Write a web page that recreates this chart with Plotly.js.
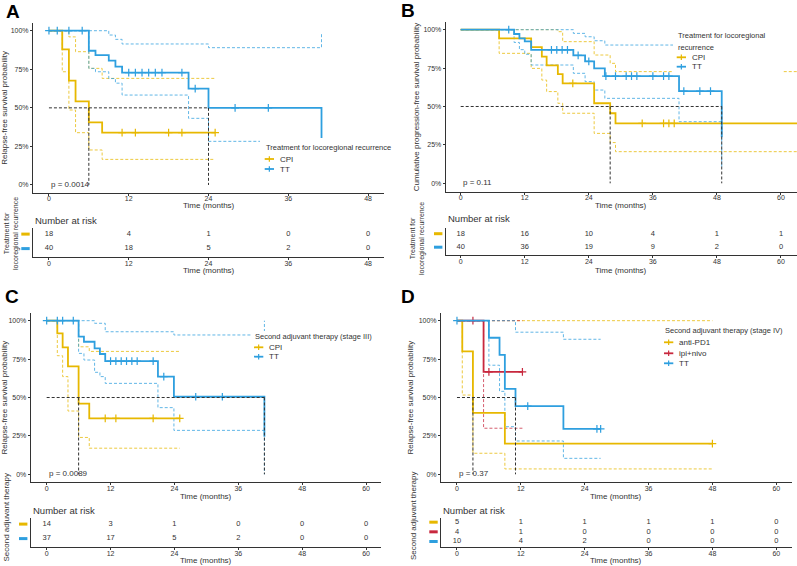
<!DOCTYPE html>
<html>
<head>
<meta charset="utf-8">
<script src="https://cdn.plot.ly/plotly-3.0.1.min.js"></script>
<style>html,body{margin:0;padding:0;background:#fff}#chart{width:797px;height:566px}</style>
</head>
<body>
<div id="chart"></div>
<script>
// ---- Panel A : treatment for locoregional recurrence (RFS) ----
const aTicks = [0, 12, 24, 36, 48];
const aNames = ["CPI", "TT"];
const aCpiT = [0, 2, 3, 4, 6, 8, 25];
const aCpiS = [1, 0.879, 0.676, 0.542, 0.406, 0.339, 0.339];
const aCpiUpT = [0, 3, 4, 6, 8, 25];
const aCpiUpS = [1, 0.96, 0.864, 0.756, 0.691, 0.691];
const aCpiLoT = [0, 2, 3, 4, 6, 8, 25];
const aCpiLoS = [1, 0.734, 0.486, 0.339, 0.227, 0.166, 0.166];
const aCpiCens = [11, 13, 18, 20, 25];
const aTtT = [0, 6, 7, 9, 10, 11, 21, 24, 41];
const aTtS = [1, 0.87, 0.842, 0.806, 0.767, 0.728, 0.624, 0.5, 0.25];
const aTtUpT = [0, 9, 10, 11, 24, 41];
const aTtUpS = [1, 0.972, 0.944, 0.914, 0.89, 0.99];
const aTtLoT = [0, 6, 7, 9, 10, 11, 21, 24, 41];
const aTtLoS = [1, 0.756, 0.734, 0.69, 0.66, 0.583, 0.432, 0.283, 0.283];
const aTtCens = [0, 1.25, 3, 5, 12, 13, 14, 15, 16, 17, 20, 22, 28, 33];
const aRiskCpi = [18, 4, 1, 0, 0];
const aRiskTt = [40, 18, 5, 2, 0];

// ---- Panel B : cumulative PFS ----
const bTicks = [0, 12, 24, 36, 48, 60];
const bNames = ["CPI", "TT"];
const bCpiT = [0, 7.2, 13.2, 15.2, 16.1, 18.2, 19.1, 25, 28, 29, 64];
const bCpiS = [1, 0.944, 0.887, 0.824, 0.768, 0.711, 0.651, 0.521, 0.456, 0.39, 0.39];
const bCpiUpT = [0, 18.2, 19.1, 25, 28, 29, 64];
const bCpiUpS = [1, 0.987, 0.922, 0.835, 0.781, 0.727, 0.727];
const bCpiLoT = [0, 7.2, 13.2, 15.2, 16.1, 18.2, 19.1, 25, 28, 29, 64];
const bCpiLoS = [1, 0.846, 0.748, 0.672, 0.597, 0.521, 0.456, 0.325, 0.265, 0.206, 0.206];
const bCpiCens = [21, 34, 38, 39, 40];
const bTtT = [0, 10, 11, 12, 13.2, 21.1, 23.3, 25, 27, 40.9, 48.9];
const bTtS = [1, 0.972, 0.944, 0.924, 0.868, 0.833, 0.794, 0.748, 0.698, 0.6, 0.3];
const bTtUpT = [0, 21.1, 23.3, 25, 27, 40.9];
const bTtUpS = [1, 0.976, 0.954, 0.928, 0.9, 0.87];
const bTtLoT = [0, 10, 11, 12, 13.2, 21.1, 23.3, 25, 27, 40.9, 48.9];
const bTtLoS = [1, 0.917, 0.87, 0.84, 0.77, 0.716, 0.662, 0.607, 0.553, 0.401, 0.1];
const bTtCens = [9, 17, 18, 19, 20, 22, 24, 27.2, 29, 31, 32, 33, 36, 38, 39, 41.8, 44.8, 46.8];
const bRiskCpi = [18, 16, 10, 4, 1, 1];
const bRiskTt = [40, 36, 19, 9, 2, 0];

// ---- Panel C : second adjuvant therapy, stage III ----
const cTicks = [0, 12, 24, 36, 48, 60];
const cNames = ["CPI", "TT"];
const cCpiT = [0, 2, 3, 4, 6, 8, 25];
const cCpiS = [1, 0.918, 0.826, 0.703, 0.46, 0.364, 0.364];
const cCpiUpT = [0, 6, 8, 25];
const cCpiUpS = [1, 0.83, 0.8, 0.8];
const cCpiLoT = [0, 2, 3, 4, 6, 8, 25];
const cCpiLoS = [1, 0.772, 0.636, 0.412, 0.24, 0.17, 0.17];
const cCpiCens = [11, 13, 20, 25];
const cTtT = [0, 6, 7, 9, 10, 11, 20.9, 23.9, 40.9];
const cTtS = [1, 0.896, 0.863, 0.82, 0.783, 0.737, 0.636, 0.505, 0.245];
const cTtUpT = [0, 9, 11, 23.9, 40.9];
const cTtUpS = [1, 0.983, 0.928, 0.907, 1];
const cTtLoT = [0, 6, 7, 9, 10, 11, 20.9, 23.9, 40.9];
const cTtLoS = [1, 0.787, 0.744, 0.664, 0.636, 0.592, 0.434, 0.286, 0];
const cTtCens = [0, 2, 3, 5, 12, 13, 14, 15, 16, 17, 20, 22, 28, 33];
const cRiskCpi = [14, 3, 1, 0, 0, 0];
const cRiskTt = [37, 17, 5, 2, 0, 0];

// ---- Panel D : second adjuvant therapy, stage IV ----
const dTicks = [0, 12, 24, 36, 48, 60];
const dNames = ["anti-PD1", "ipi+nivo", "TT"];
const dPdT = [0, 1, 3, 9, 48];
const dPdS = [1, 0.8, 0.4, 0.2, 0.2];
const dPdUpT = [0, 48];
const dPdUpS = [1, 1];
const dPdLoT = [0, 1, 3, 9, 48];
const dPdLoS = [1, 0.516, 0.137, 0.035, 0.035];
const dPdCens = [48];
const dIpiT = [0, 5, 12.3];
const dIpiS = [1, 0.667, 0.667];
const dIpiUpT = [0, 12.3];
const dIpiUpS = [1, 1];
const dIpiLoT = [0, 5, 12.3];
const dIpiLoS = [1, 0.3, 0.3];
const dIpiCens = [3, 6, 12.3];
const dTtT = [0, 6, 8, 9, 11, 20, 27];
const dTtS = [1, 0.889, 0.778, 0.556, 0.444, 0.296, 0.296];
const dTtUpT = [0, 11, 20, 27];
const dTtUpS = [1, 0.925, 0.879, 0.879];
const dTtLoT = [0, 6, 8, 9, 11, 20, 27];
const dTtLoS = [1, 0.71, 0.54, 0.31, 0.217, 0.104, 0.104];
const dTtCens = [0, 13.3, 26.3, 27];
const dRiskPd = [5, 1, 1, 1, 1, 0];
const dRiskIpi = [4, 1, 0, 0, 0, 0];
const dRiskTt = [10, 4, 2, 0, 0, 0];

const pValues = ["p = 0.0014", "p = 0.11", "p = 0.0089", "p = 0.37"];

const W = 797, H = 566;
const FONT = "Liberation Sans, Arial, sans-serif";
const ORANGE = "#E7B800", BLUE = "#2E9FDF", RED = "#C8283E";
const INK = "#333333";

function px(x) { return x / W; }
function py(y) { return 1 - y / H; }

function stepAt(ts, ss, t) {
  let v = ss[0];
  for (let i = 0; i < ts.length; i++) if (ts[i] <= t) v = ss[i];
  return v;
}
function medianOf(ts, ss) {
  for (let i = 0; i < ts.length; i++) if (ss[i] <= 0.5) return ts[i];
  return null;
}

// groups and panel geometry (pixels of the 797x566 canvas)
const panels = [
  {
    ax: 1, keyAx: 9, ticks: aTicks, p: pValues[0],
    groups: [
      { name: aNames[0], color: ORANGE, t: aCpiT, s: aCpiS, upT: aCpiUpT, upS: aCpiUpS, loT: aCpiLoT, loS: aCpiLoS, cens: aCpiCens, risk: aRiskCpi },
      { name: aNames[1], color: BLUE, t: aTtT, s: aTtS, upT: aTtUpT, upS: aTtUpS, loT: aTtLoT, loS: aTtLoS, cens: aTtCens, risk: aRiskTt }
    ],
    xPx: [33, 384], xRange: [-2.4, 50.4],
    yPx: [23, 192.7], yRange: [-0.05, 1.05],
    tPx: [228.3, 257.3], xTitleY: [206, 270.7],
    yTitle: "Relapse-free survival probability", yStand: 4.5,
    tableTitle: "Treatment for<br>locoregional recurrence", tableTitleX: 11, tableTitleY: 234, tableTitleSize: 7,
    narY: 220, letter: "A", letterX: 4, letterY: 0,
    leg: { box: [260, 138, 397, 178], x: 264, titleY: [147], title: ["Treatment for locoregional recurrence"], entryY: [159, 169] }
  },
  {
    ax: 3, keyAx: 10, ticks: bTicks, p: pValues[1],
    groups: [
      { name: bNames[0], color: ORANGE, t: bCpiT, s: bCpiS, upT: bCpiUpT, upS: bCpiUpS, loT: bCpiLoT, loS: bCpiLoS, cens: bCpiCens, risk: bRiskCpi },
      { name: bNames[1], color: BLUE, t: bTtT, s: bTtS, upT: bTtUpT, upS: bTtUpS, loT: bTtLoT, loS: bTtLoS, cens: bTtCens, risk: bRiskTt }
    ],
    xPx: [445.7, 797], xRange: [-2.81, 63.0],
    yPx: [22, 192], yRange: [-0.0566, 1.05],
    tPx: [228.3, 255.3], xTitleY: [205, 270],
    yTitle: "Cumulative progression-free survival probability", yStand: 2,
    tableTitle: "Treatment for<br>locoregional recurrence", tableTitleX: 417, tableTitleY: 239, tableTitleSize: 7,
    narY: 219, letter: "B", letterX: 399, letterY: -1,
    leg: { box: [673, 27, 783, 73.5], x: 676, titleY: [35, 47], title: ["Treatment for locoregional", "recurrence"], entryY: [57.3, 66.7] }
  },
  {
    ax: 5, keyAx: 11, ticks: cTicks, p: pValues[2],
    groups: [
      { name: cNames[0], color: ORANGE, t: cCpiT, s: cCpiS, upT: cCpiUpT, upS: cCpiUpS, loT: cCpiLoT, loS: cCpiLoS, cens: cCpiCens, risk: cRiskCpi },
      { name: cNames[1], color: BLUE, t: cTtT, s: cTtS, upT: cTtUpT, upS: cTtUpS, loT: cTtLoT, loS: cTtLoS, cens: cTtCens, risk: cRiskTt }
    ],
    xPx: [30.7, 381], xRange: [-3.0, 62.8],
    yPx: [313, 482.3], yRange: [-0.052, 1.05],
    tPx: [518.3, 547.3], xTitleY: [496, 560.7],
    yTitle: "Relapse-free survival probability", yStand: 1,
    tableTitle: "Second adjuvant therapy", tableTitleX: 5.5, tableTitleY: 517, tableTitleSize: 8,
    narY: 510, letter: "C", letterX: 3, letterY: 285,
    leg: { box: [252, 331, 376, 362], x: 253.3, titleY: [336], title: ["Second adjuvant therapy (stage III)"], entryY: [347.3, 356.7] }
  },
  {
    ax: 7, keyAx: 12, ticks: dTicks, p: pValues[3],
    groups: [
      { name: dNames[0], color: ORANGE, t: dPdT, s: dPdS, upT: dPdUpT, upS: dPdUpS, loT: dPdLoT, loS: dPdLoS, cens: dPdCens, risk: dRiskPd },
      { name: dNames[1], color: RED, t: dIpiT, s: dIpiS, upT: dIpiUpT, upS: dIpiUpS, loT: dIpiLoT, loS: dIpiLoS, cens: dIpiCens, risk: dRiskIpi },
      { name: dNames[2], color: BLUE, t: dTtT, s: dTtS, upT: dTtUpT, upS: dTtUpS, loT: dTtLoT, loS: dTtLoS, cens: dTtCens, risk: dRiskTt }
    ],
    xPx: [441, 791.7], xRange: [-3.0, 62.9],
    yPx: [313, 482.3], yRange: [-0.052, 1.05],
    tPx: [518.3, 547.3], xTitleY: [496, 560.7],
    yTitle: "Relapse-free survival probability", yStand: 3,
    tableTitle: "Second adjuvant therapy", tableTitleX: 413, tableTitleY: 516, tableTitleSize: 8,
    narY: 510, letter: "D", letterX: 399, letterY: 284.5,
    leg: { box: [661, 324, 776, 368], x: 663.3, titleY: [330.7], title: ["Second adjuvant therapy (stage IV)"], entryY: [342.3, 353.3, 363.3] }
  }
];

const traces = [];
const layout = {
  width: W, height: H,
  margin: { l: 0, r: 0, t: 0, b: 0 },
  paper_bgcolor: "#ffffff", plot_bgcolor: "rgba(0,0,0,0)",
  showlegend: false, hovermode: false,
  font: { family: FONT, color: INK },
  shapes: [], annotations: []
};

function xAxisDef(p, anchor) {
  return {
    domain: [px(p.xPx[0]), px(p.xPx[1])], range: p.xRange, anchor: anchor,
    tickvals: p.ticks, ticks: "outside", ticklen: 2, tickcolor: INK,
    ticklabelstandoff: -3,
    tickfont: { size: 7, color: INK, family: FONT },
    showline: true, linecolor: INK, linewidth: 1,
    showgrid: false, zeroline: false, fixedrange: true
  };
}
function xTitle(p, y) {
  return {
    xref: "paper", yref: "paper", x: px((p.xPx[0] + p.xPx[1]) / 2), y: py(y),
    xanchor: "center", yanchor: "middle", text: "Time (months)", showarrow: false,
    font: { size: 8, color: INK, family: FONT }
  };
}

panels.forEach(function (p) {
  const keyM = p.ax === 1 ? "" : String(p.ax);
  const xMain = p.ax === 1 ? "x" : "x" + p.ax, yMain = p.ax === 1 ? "y" : "y" + p.ax;
  const xt = "x" + (p.ax + 1), yt = "y" + (p.ax + 1);

  // main KM axes
  layout["xaxis" + keyM] = xAxisDef(p, yMain);
  layout["yaxis" + keyM] = {
    domain: [py(p.yPx[1]), py(p.yPx[0])], range: p.yRange, anchor: xMain,
    tickvals: [0, 0.25, 0.5, 0.75, 1], ticktext: ["0%", "25%", "50%", "75%", "100%"],
    ticks: "outside", ticklen: 2, tickcolor: INK,
    tickfont: { size: 7, color: INK, family: FONT },
    showline: true, linecolor: INK, linewidth: 1,
    showgrid: false, zeroline: false, fixedrange: true,
    title: { text: p.yTitle, font: { size: 8, color: INK, family: FONT }, standoff: p.yStand }
  };
  // risk table axes
  const n = p.groups.length;
  layout["xaxis" + (p.ax + 1)] = xAxisDef(p, yt);
  layout["yaxis" + (p.ax + 1)] = {
    domain: [py(p.tPx[1]), py(p.tPx[0])], range: [0.4, n + 0.4], anchor: xt,
    showticklabels: false, ticks: "",
    showline: true, linecolor: INK, linewidth: 1,
    showgrid: false, zeroline: false, fixedrange: true
  };
  // hidden strip left of the table axis that carries the colour keys
  layout["xaxis" + p.keyAx] = {
    domain: [px(p.xPx[0] - 15), px(p.xPx[0])], range: [0, 1], anchor: yt,
    visible: false, fixedrange: true
  };
  layout.annotations.push(xTitle(p, p.xTitleY[0]), xTitle(p, p.xTitleY[1]));

  // confidence bands (dashed), curves, censor marks
  p.groups.forEach(function (g) {
    [[g.upT, g.upS], [g.loT, g.loS]].forEach(function (ci) {
      traces.push({
        type: "scatter", mode: "lines", x: ci[0], y: ci[1], xaxis: xMain, yaxis: yMain,
        line: { shape: "hv", color: g.color, width: 1, dash: "3px,2px" }, opacity: 0.75,
        hoverinfo: "skip"
      });
    });
  });
  p.groups.forEach(function (g) {
    traces.push({
      type: "scatter", mode: "lines", name: g.name, x: g.t, y: g.s, xaxis: xMain, yaxis: yMain,
      line: { shape: "hv", color: g.color, width: 1.8 }
    });
    traces.push({
      type: "scatter", mode: "markers", x: g.cens, y: g.cens.map(t => stepAt(g.t, g.s, t)),
      xaxis: xMain, yaxis: yMain, cliponaxis: false,
      marker: { symbol: "cross-thin-open", size: 5.5, color: g.color, line: { color: g.color, width: 1.2 } }
    });
  });

  // median survival guide lines
  const meds = p.groups.map(g => medianOf(g.t, g.s)).filter(m => m !== null);
  const mMax = Math.max.apply(null, meds);
  const dashLine = { color: INK, width: 1, dash: "3px,2px" };
  traces.push({ type: "scatter", mode: "lines", x: [0, mMax], y: [0.5, 0.5], xaxis: xMain, yaxis: yMain, line: dashLine });
  meds.forEach(function (m) {
    traces.push({ type: "scatter", mode: "lines", x: [m, m], y: [0.5, 0], xaxis: xMain, yaxis: yMain, line: dashLine });
  });

  // number-at-risk table: colour keys left of the axis, counts at the ticks
  traces.push({
    type: "scatter", mode: "markers", x: p.groups.map(() => 0.5), y: p.groups.map((g, i) => n - i),
    xaxis: "x" + p.keyAx, yaxis: yt, cliponaxis: false,
    marker: { symbol: "line-ew-open", size: 6, color: p.groups.map(g => g.color), line: { color: p.groups.map(g => g.color), width: 3 } }
  });
  p.groups.forEach(function (g, i) {
    traces.push({
      type: "scatter", mode: "text", x: p.ticks, y: p.ticks.map(() => n - i),
      text: g.risk.map(String), xaxis: xt, yaxis: yt, cliponaxis: false,
      textfont: { size: 7.5, color: INK, family: FONT }
    });
  });

  // p-value
  layout.annotations.push({
    xref: xMain, yref: yMain, x: 0, y: 0.005, xanchor: "left", yanchor: "middle",
    text: p.p, showarrow: false, font: { size: 8, color: INK, family: FONT }
  });
  // "Number at risk"
  layout.annotations.push({
    xref: "paper", yref: "paper", x: px(p.xPx[0]), y: py(p.narY), xanchor: "left", yanchor: "middle",
    text: "Number at risk", showarrow: false, font: { size: 9.5, color: INK, family: FONT }
  });
  // table y title
  layout.annotations.push({
    xref: "paper", yref: "paper", x: px(p.tableTitleX), y: py(p.tableTitleY), xanchor: "center", yanchor: "middle",
    text: p.tableTitle, textangle: -90, showarrow: false,
    font: { size: p.tableTitleSize, color: INK, family: FONT }
  });
  // panel letter
  layout.annotations.push({
    xref: "paper", yref: "paper", x: px(p.letterX), y: py(p.letterY + 1), xanchor: "left", yanchor: "top",
    height: 16, valign: "middle",
    text: "<b>" + p.letter + "</b>", showarrow: false, font: { size: 19, color: "#000", family: FONT }
  });

  // legend box drawn over the plot (white background like ggplot)
  const L = p.leg;
  layout.shapes.push({
    type: "rect", xref: "paper", yref: "paper", layer: "above",
    x0: px(L.box[0]), x1: px(L.box[2]), y0: py(L.box[3]), y1: py(L.box[1]),
    fillcolor: "#ffffff", line: { width: 0 }
  });
  L.title.forEach(function (t, i) {
    layout.annotations.push({
      xref: "paper", yref: "paper", x: px(L.x), y: py(L.titleY[i]), xanchor: "left", yanchor: "middle",
      text: t, showarrow: false, font: { size: 7.5, color: INK, family: FONT }
    });
  });
  p.groups.forEach(function (g, i) {
    const ey = L.entryY[i], k0 = L.x + 0.7, k1 = L.x + 10;
    layout.shapes.push({
      type: "line", xref: "paper", yref: "paper", layer: "above",
      x0: px(k0), x1: px(k1), y0: py(ey), y1: py(ey), line: { color: g.color, width: 1.8 }
    });
    layout.shapes.push({
      type: "line", xref: "paper", yref: "paper", layer: "above",
      x0: px((k0 + k1) / 2), x1: px((k0 + k1) / 2), y0: py(ey - 2.8), y1: py(ey + 2.8), line: { color: g.color, width: 1.2 }
    });
    layout.annotations.push({
      xref: "paper", yref: "paper", x: px(L.x + 13.5), y: py(ey), xanchor: "left", yanchor: "middle",
      text: g.name, showarrow: false, font: { size: 8, color: INK, family: FONT }
    });
  });
});

Plotly.newPlot("chart", traces, layout, { staticPlot: true, displayModeBar: false });
</script>
</body>
</html>
